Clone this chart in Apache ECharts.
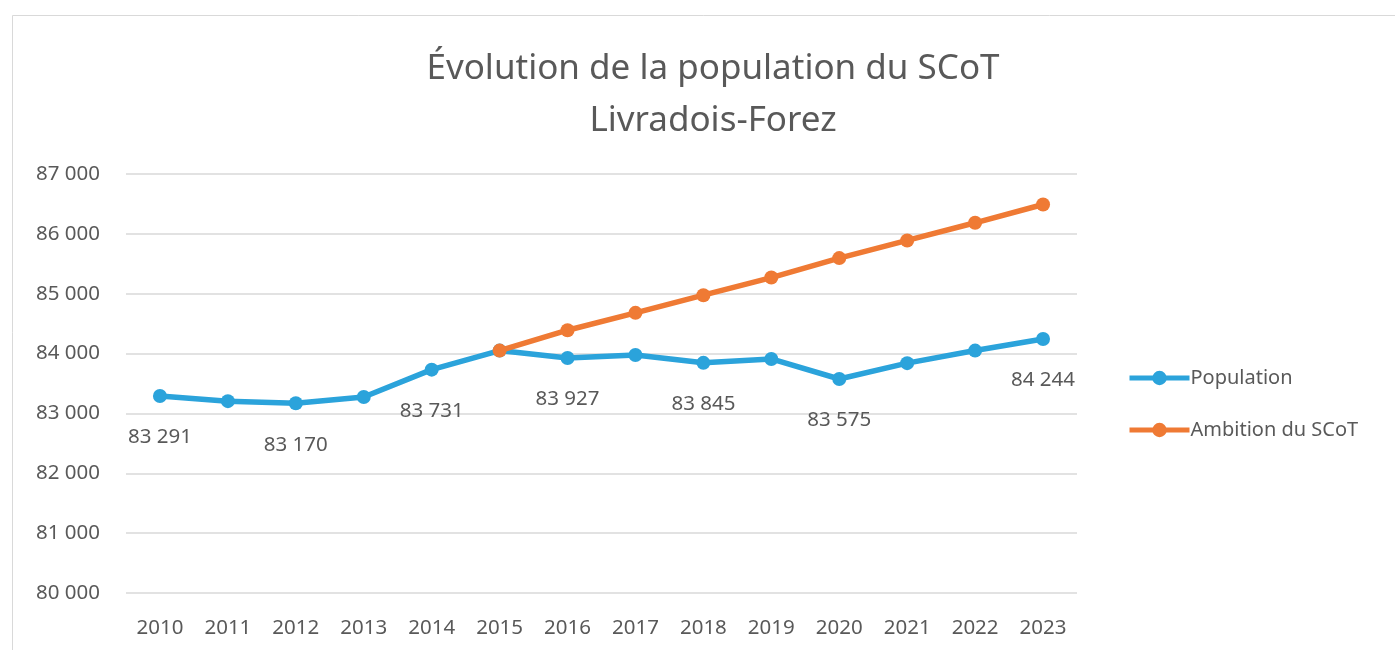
<!DOCTYPE html>
<html>
<head>
<meta charset="utf-8">
<script src="https://cdn.jsdelivr.net/npm/echarts@6/dist/echarts.min.js"></script>
<style>
  html, body { margin: 0; padding: 0; background: #fff; }
  #main { width: 1395px; height: 650px; }
</style>
</head>
<body>
<div id="main"></div>
<script>
var years = ['2010', '2011', '2012', '2013', '2014', '2015', '2016', '2017', '2018', '2019', '2020', '2021', '2022', '2023'];
var population = [83291, 83205, 83170, 83275, 83731, 84050, 83927, 83975, 83845, 83910, 83575, 83840, 84050, 84244];
var ambition = [null, null, null, null, null, 84050, 84390, 84680, 84975, 85270, 85595, 85890, 86185, 86490];
var labelledYears = ['2010', '2012', '2014', '2016', '2018', '2020', '2023'];

var textColor = '#595959';
var font = 'Noto Sans';

// espace comme séparateur de milliers
function fmt(v) {
    return String(v).replace(/\B(?=(\d{3})+(?!\d))/g, ' ');
}

var myChart = echarts.init(document.getElementById('main'));

var option = {
    backgroundColor: '#fff',
    animation: false,
    textStyle: { fontFamily: font },
    title: {
        text: 'Évolution de la population du SCoT\nLivradois-Forez',
        left: 708,
        textAlign: 'center',
        top: 38,
        textStyle: {
            fontFamily: font,
            fontSize: 35,
            fontWeight: 'normal',
            color: textColor,
            lineHeight: 52
        }
    },
    legend: {
        orient: 'vertical',
        left: 1122,
        top: 363,
        itemGap: 32,
        itemWidth: 60,
        itemHeight: 18,
        lineStyle: { width: 5 },
        textStyle: { fontFamily: font, fontSize: 20, color: textColor, padding: [0, 0, 0, -4] },
        data: ['Population', 'Ambition du SCoT']
    },
    grid: {
        left: 126,
        right: 318,
        top: 174,
        bottom: 57
    },
    xAxis: {
        type: 'category',
        data: years,
        boundaryGap: true,
        axisLine: { show: false },
        axisTick: { show: false },
        axisLabel: { fontFamily: font, fontSize: 20.5, color: textColor, margin: 25 }
    },
    yAxis: {
        type: 'value',
        min: 80000,
        max: 87000,
        interval: 1000,
        axisLine: { show: false },
        axisTick: { show: false },
        axisLabel: {
            fontFamily: font,
            fontSize: 20.5,
            color: textColor,
            margin: 26,
            formatter: fmt
        },
        splitLine: { lineStyle: { color: '#d9d9d9', width: 1.5 } }
    },
    series: [
        {
            name: 'Population',
            type: 'line',
            data: population,
            color: '#2ba3db',
            lineStyle: { width: 5.5 },
            symbol: 'circle',
            symbolSize: 14,
            z: 3,
            label: {
                show: true,
                position: 'bottom',
                distance: 24,
                fontFamily: font,
                fontSize: 20.5,
                color: textColor,
                formatter: function (p) {
                    return labelledYears.indexOf(p.name) >= 0 ? fmt(p.value) : '';
                }
            }
        },
        {
            name: 'Ambition du SCoT',
            type: 'line',
            data: ambition,
            color: '#ef7a34',
            lineStyle: { width: 5.5 },
            symbol: 'circle',
            symbolSize: 14,
            z: 4
        }
    ],
    graphic: [
        {
            type: 'polyline',
            shape: { points: [[12.5, 650], [12.5, 15.5], [1395, 15.5]] },
            style: { stroke: '#d9d9d9', lineWidth: 1, fill: null }
        }
    ]
};

myChart.setOption(option);
</script>
</body>
</html>
